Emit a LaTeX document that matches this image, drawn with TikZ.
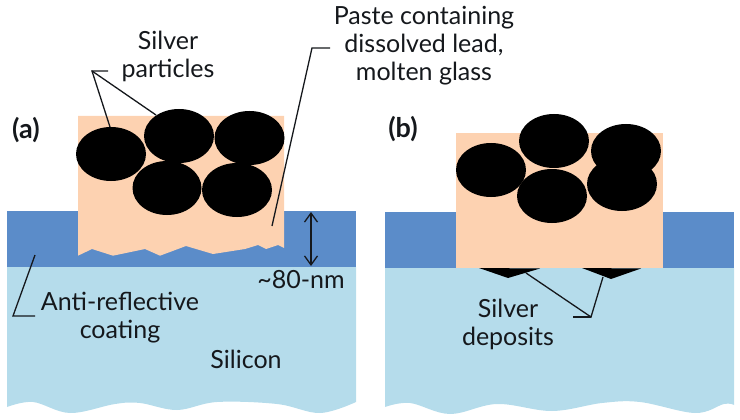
\documentclass[tikz,border=0pt]{standalone}
\usepackage{fontspec}
\setmainfont{Lato}
\usetikzlibrary{arrows.meta,shapes.geometric}
\definecolor{arc}{HTML}{5B8CC9}
\definecolor{sil}{HTML}{B5DCEB}
\definecolor{paste}{HTML}{FDD2B1}
\definecolor{ink}{HTML}{15181C}
\tikzset{
  particle/.style={ellipse,fill=black,draw=none,minimum width=70pt,minimum height=54pt,inner sep=0pt},
  lbl/.style={font=\fontsize{25}{28}\selectfont,text=ink,align=center,inner sep=0pt},
  panel/.style={font=\fontsize{27}{30}\selectfont\bfseries,text=ink,inner sep=0pt},
  lead/.style={draw=ink,line width=1.3pt,line join=miter},
  dim/.style={draw=ink,line width=1.3pt,{Straight Barb[length=9pt,width=13pt]}-{Straight Barb[length=9pt,width=13pt]}}
}
\begin{document}
\begin{tikzpicture}[x=1pt,y=-1pt]
\useasboundingbox (0,0) rectangle (740,420);
% panel (a)
\fill[sil] (7,267) -- plot[smooth,tension=.6] coordinates {(7,407) (33,402) (70,413) (115,404) (140,403) (177,410) (217,402) (277,404) (320,413) (356,402)} -- (356,267) -- cycle;
\fill[arc] (7,211) rectangle (356,267);
\fill[paste] (78,116) -- (284,116) -- (284,248) -- (278,245) -- (266,249) -- (258,245) -- (245,249) -- (213,254) -- (186,246) -- (160,255.7) -- (145,249) -- (113,255.7) -- (92,249) -- (78,255.7) -- cycle;
\node[particle] (a1) at (111,154) {};
\node[particle] (a2) at (179,136) {};
\node[particle] (a3) at (249.5,138) {};
\node[particle,minimum width=69pt] (a4) at (167,188) {};
\node[particle] (a5) at (237,190) {};
% panel (b)
\fill[sil] (385,268) -- plot[smooth,tension=.6] coordinates {(385,407) (410,403) (450,414) (497,404) (552,411) (602,403) (640,402) (695,413) (724,404) (734,405)} -- (734,268) -- cycle;
\fill[arc] (385,212) rectangle (734,268);
\fill[paste] (456,133) rectangle (663,268);
\node[particle] (b1) at (491,170) {};
\node[particle] (b2) at (554,141) {};
\node[particle] (b3) at (626,151) {};
\node[particle] (b5) at (622,184) {};
\node[particle] (b4) at (552,196) {};
\fill[black] (479,268) -- (508,278) -- (540,268.5) -- cycle;
\fill[black] (582,268) -- (611,279) -- (641,268.5) -- cycle;
% labels
\node[lbl] (tSilver) at (168,56) {Silver\\particles};
\node[lbl] (tPaste) at (424,46) {Paste containing\\dissolved lead,\\molten glass};
\node[lbl] (tAnti) at (120,318) {Anti-reflective\\coating};
\node[lbl,anchor=base] (tSi) at (246,368) {Silicon};
\node[lbl,anchor=base] (tNm) at (301,288) {\textasciitilde 80-nm};
\node[lbl] (tDep) at (508,324) {Silver\\deposits};
\node[panel] (pa) at (26,130) {(a)};
\node[panel] (pb) at (403,129) {(b)};
% connector anchors
\coordinate (sp0) at (108,71); \coordinate (sp1) at (92,71);
\coordinate (sp2) at (110,127); \coordinate (sp3) at (156,115);
\coordinate (pc0) at (330,48); \coordinate (pc1) at (312,48); \coordinate (pc2) at (272,226);
\coordinate (ar0) at (35,255); \coordinate (ar1) at (13,316); \coordinate (ar2) at (35,316);
\coordinate (sd0) at (526,273); \coordinate (sd1) at (591,317); \coordinate (sd2) at (603,277); \coordinate (sd3) at (573,317);
\coordinate (dimT) at (311,212); \coordinate (dimB) at (311,266);
\draw[lead] (sp0) -- (sp1) -- (sp2);
\draw[lead] (sp1) -- (sp3);
\draw[lead] (pc0) -- (pc1) -- (pc2);
\draw[lead] (ar0) -- (ar1) -- (ar2);
\draw[lead] (sd0) -- (sd1) -- (sd2);
\draw[lead] (sd3) -- (sd1);
\draw[dim] (dimT) -- (dimB);
\end{tikzpicture}
\end{document}
